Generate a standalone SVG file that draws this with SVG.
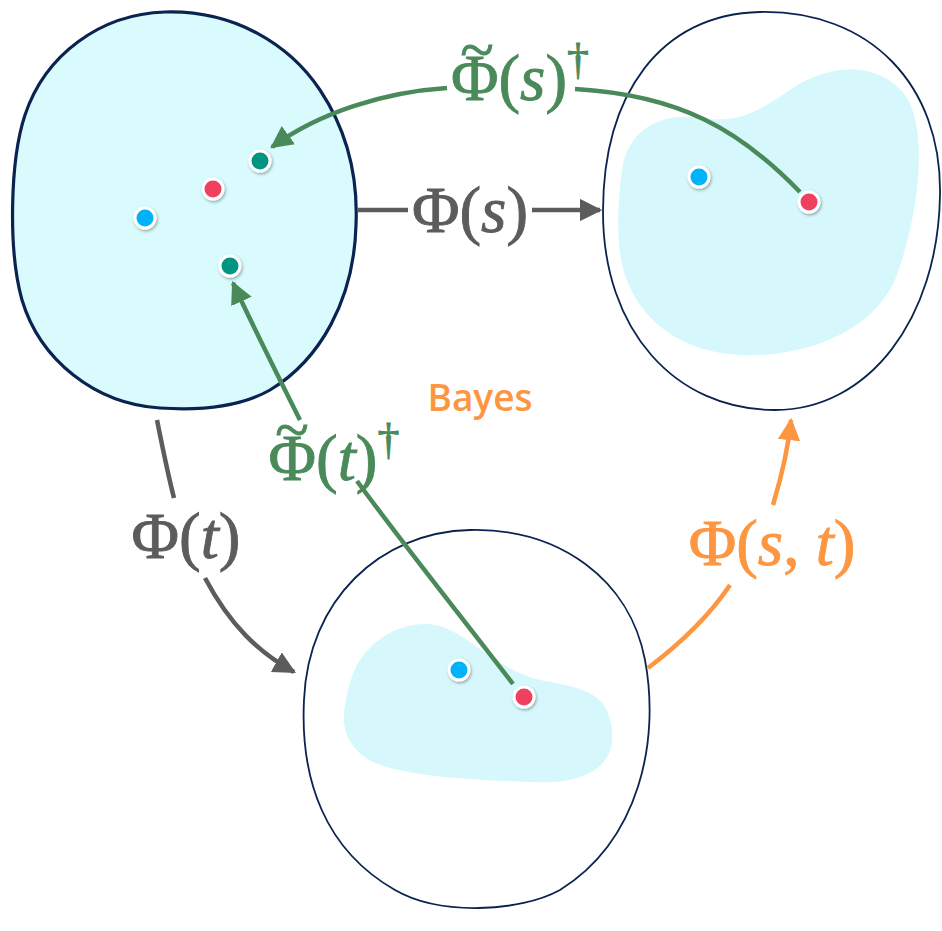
<svg xmlns="http://www.w3.org/2000/svg" width="942" height="931" viewBox="0 0 942 931">
<defs>
<style>
.blob{fill:#d9fbfe;stroke:#0b2350}
.outer{fill:#ffffff;stroke:#0b2350;stroke-width:1.8}
.inner{fill:#d6f8fc;stroke:none}
.dot{stroke:#ffffff;stroke-width:3;filter:url(#sh)}
.blue{fill:#00b2f8}.red{fill:#f0405e}.teal{fill:#009482}
.lbl{font-size:65px;text-anchor:middle;stroke-width:0.9}
.it{font-style:italic}
.g{fill:#4a8a5a;stroke:#4a8a5a}.gr{fill:#5c5c5c;stroke:#5c5c5c}.o{fill:#fd9640;stroke:#fd9640}
.cg{fill:none;stroke:#4a8a5a;stroke-width:4.5}
.cgr{fill:none;stroke:#5c5c5c;stroke-width:4.5}
.co{fill:none;stroke:#fd9640;stroke-width:4.5}
</style>
<filter id="sh" x="-50%" y="-50%" width="200%" height="200%"><feDropShadow dx="1" dy="1.5" stdDeviation="1.5" flood-color="#000" flood-opacity="0.35"/></filter>
<marker id="ag" viewBox="0 0 10 10" refX="9" refY="5" markerWidth="5" markerHeight="5" markerUnits="strokeWidth" orient="auto"><path d="M0,0 L10,5 L0,10 Z" fill="#4a8a5a"/></marker>
<marker id="agr" viewBox="0 0 10 10" refX="9" refY="5" markerWidth="5" markerHeight="5" markerUnits="strokeWidth" orient="auto"><path d="M0,0 L10,5 L0,10 Z" fill="#5c5c5c"/></marker>
<marker id="ao" viewBox="0 0 10 10" refX="9" refY="5" markerWidth="5" markerHeight="5" markerUnits="strokeWidth" orient="auto"><path d="M0,0 L10,5 L0,10 Z" fill="#fd9640"/></marker>
</defs>
<rect width="942" height="931" fill="#ffffff"/>

<g id="nodeA">
<path class="blob" stroke-width="3.2" d="M165,12 C235,10 290,45 320,90 C350,135 358,180 356,225 C354,300 320,360 270,390 C235,410 190,410 160,408 C95,404 40,360 22,300 C8,250 10,160 25,115 C45,55 100,14 165,12 Z"/>
<circle class="dot teal" cx="260" cy="161" r="10"/>
<circle class="dot red" cx="213" cy="189" r="10"/>
<circle class="dot blue" cx="145" cy="218" r="10"/>
<circle class="dot teal" cx="230" cy="266" r="10"/>
</g>

<g id="nodeB">
<path class="outer" d="M760,12 C870,10 942,85 940,195 C938,320 868,410 775,410 C675,410 603,330 603,212 C603,95 660,14 760,12 Z"/>
<path class="inner" d="M622,170 C628,130 660,112 700,118 C740,124 760,110 790,90 C830,62 880,62 905,95 C930,130 918,220 895,280 C870,335 800,358 740,355 C680,352 640,320 625,275 C615,245 618,200 622,170 Z"/>
<circle class="dot blue" cx="699" cy="177" r="10"/>
<circle class="dot red" cx="809" cy="202" r="10"/>
</g>

<g id="nodeC">
<path class="outer" d="M470,530 C560,528 630,580 645,660 C660,740 640,840 560,890 C520,912 440,916 395,890 C325,850 300,780 304,700 C308,600 380,532 470,530 Z"/>
<path class="inner" d="M360,660 C380,630 420,615 450,630 C480,645 500,670 540,680 C580,688 608,690 612,730 C616,770 580,785 530,782 C480,780 430,778 390,768 C350,758 340,730 345,705 C348,688 352,672 360,660 Z"/>
<circle class="dot blue" cx="459" cy="670" r="10"/>
<circle class="dot red" cx="524" cy="697" r="10"/>
</g>

<g id="connectors">
<path class="cg" d="M800,192 C740,130 680,95 575,89"/>
<path class="cg" marker-end="url(#ag)" d="M447,88 C385,92 320,112 272,147"/>
<path class="cgr" marker-end="url(#agr)" d="M358,210 L408,210 M532,210 L600,210"/>
<path class="cg" d="M513,684 C460,615 400,540 357,481"/>
<path class="cg" marker-end="url(#ag)" d="M300,420 C275,370 250,320 233,283"/>
<path class="cgr" d="M157,420 C163,450 168,475 174,498"/>
<path class="cgr" marker-end="url(#agr)" d="M205,578 C230,625 258,652 294,672"/>
<path class="co" d="M648,668 C685,640 712,612 730,585"/>
<path class="co" marker-end="url(#ao)" d="M773,505 C782,475 788,450 791,420"/>
</g>

<g id="labels" font-family="Liberation Serif, Times New Roman, serif">
<text class="lbl g"><tspan x="520" y="100">Φ(<tspan class="it">s</tspan>)<tspan font-size="44" dy="-26">†</tspan></tspan><tspan x="477" y="70" font-size="62">~</tspan></text>
<text class="lbl gr" x="470" y="232">Φ(<tspan class="it">s</tspan>)</text>
<text class="lbl g"><tspan x="334" y="480">Φ(<tspan class="it">t</tspan>)<tspan font-size="44" dy="-26">†</tspan></tspan><tspan x="292" y="450" font-size="62">~</tspan></text>
<text class="lbl gr" x="186" y="558">Φ(<tspan class="it">t</tspan>)</text>
<text class="lbl o" x="772" y="565">Φ(<tspan class="it">s</tspan>, <tspan class="it">t</tspan>)</text>
<text x="480" y="411" font-family="Open Sans, Lato, sans-serif" font-weight="600" font-size="37" fill="#fd9640" text-anchor="middle">Bayes</text>
</g>
</svg>
